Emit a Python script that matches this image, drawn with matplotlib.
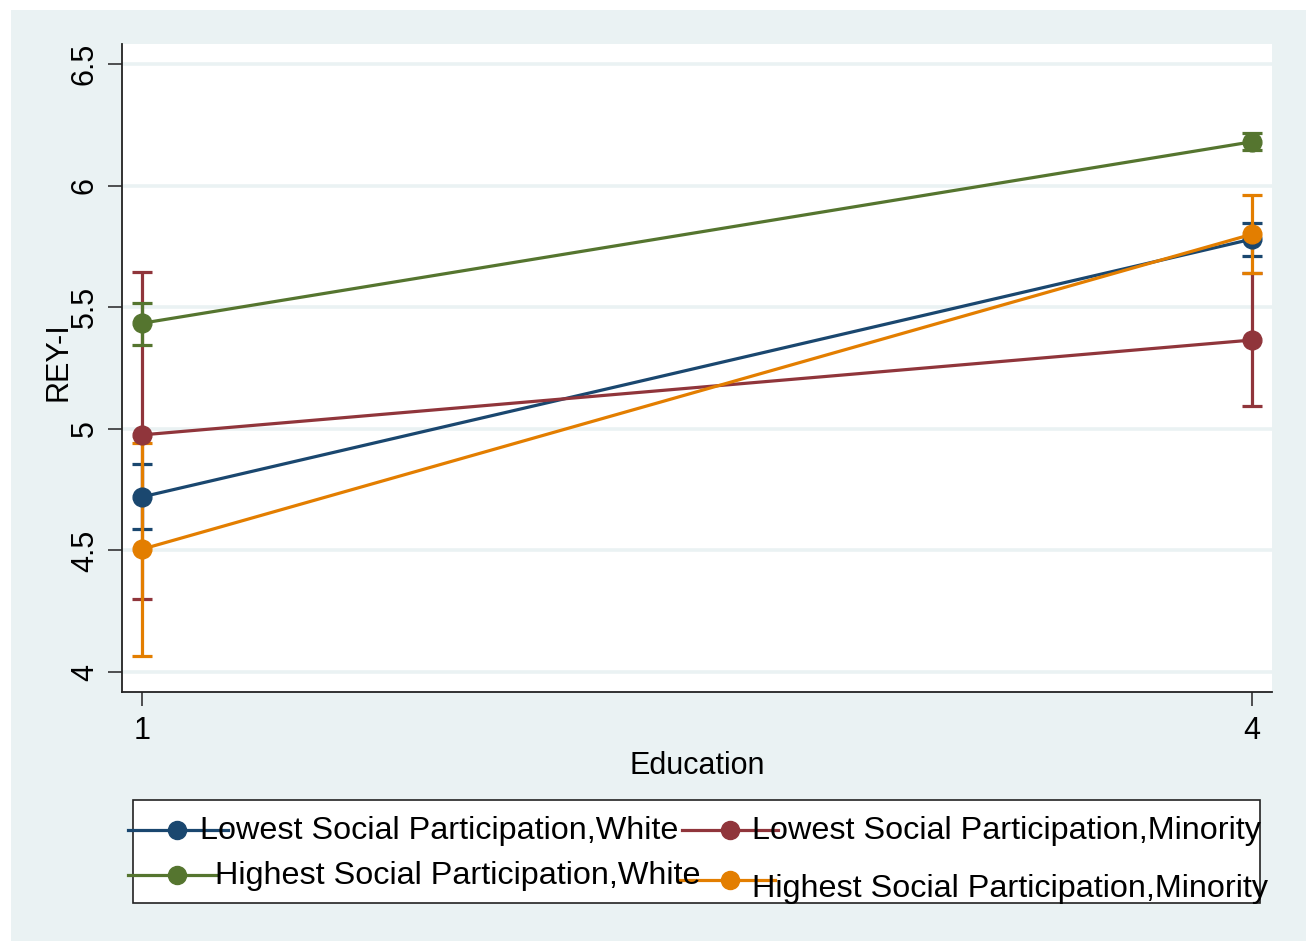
import matplotlib
matplotlib.use("Agg")
import matplotlib.pyplot as plt
from matplotlib.patches import Rectangle
from matplotlib.lines import Line2D

plt.rcParams['font.family'] = ['Liberation Sans', 'DejaVu Sans']

# Predicted REY-I scores by education level, with 95% confidence limits
education = [1, 4]
series_names = [
    "Lowest Social Participation,White",
    "Lowest Social Participation,Minority",
    "Highest Social Participation,White",
    "Highest Social Participation,Minority",
]
series_colors = ["#1a476f", "#90353b", "#55752f", "#e37e00"]

low_white_mean = [4.72, 5.78]
low_white_lo = [4.59, 5.71]
low_white_hi = [4.855, 5.845]

low_minority_mean = [4.975, 5.365]
low_minority_lo = [4.30, 5.093]
low_minority_hi = [5.644, 5.64]

high_white_mean = [5.434, 6.18]
high_white_lo = [5.344, 6.145]
high_white_hi = [5.517, 6.215]

high_minority_mean = [4.505, 5.80]
high_minority_lo = [4.066, 5.64]
high_minority_hi = [4.94, 5.96]

y_ticks = [4, 4.5, 5, 5.5, 6, 6.5]
y_tick_labels = ["4", "4.5", "5", "5.5", "6", "6.5"]
x_ticks = [1, 4]
x_tick_labels = ["1", "4"]

means = [low_white_mean, low_minority_mean, high_white_mean, high_minority_mean]
lows = [low_white_lo, low_minority_lo, high_white_lo, high_minority_lo]
highs = [low_white_hi, low_minority_hi, high_white_hi, high_minority_hi]

W, H = 1306, 941
fig = plt.figure(figsize=(W / 100, H / 100), dpi=100, facecolor="white")
bg = "#eaf2f3"

# Pixel-space canvas for the background and the legend
canvas = fig.add_axes([0, 0, 1, 1], zorder=0)
canvas.set_xlim(0, W)
canvas.set_ylim(H, 0)
canvas.axis("off")
canvas.add_patch(Rectangle((11, 10), W - 11, H - 10, facecolor=bg, edgecolor="none"))

# Main plot region
left, right, top, bottom = 122, 1272, 44, 692
ax = fig.add_axes([left / W, (H - bottom) / H, (right - left) / W, (bottom - top) / H], zorder=1)
ax.set_facecolor("white")
ax.set_xlim(0.946, 4.054)
ax.set_ylim(3.918, 6.582)

for yt in y_ticks:
    ax.axhline(yt, color=bg, lw=2.6, zorder=0.5)

for m, lo, hi, c in zip(means, lows, highs, series_colors):
    yerr = [[mm - l for mm, l in zip(m, lo)], [h - mm for mm, h in zip(m, hi)]]
    ax.errorbar(education, m, yerr=yerr, fmt="none", ecolor=c, elinewidth=2.3,
                capsize=7, capthick=2.3, zorder=2)
for m, c in zip(means, series_colors):
    ax.plot(education, m, color=c, lw=2.3, marker="o", markersize=13.5, zorder=3)

for s in ["top", "right"]:
    ax.spines[s].set_visible(False)
for s in ["left", "bottom"]:
    ax.spines[s].set_color("#222222")
    ax.spines[s].set_linewidth(1.3)

ax.set_yticks(y_ticks)
ax.set_yticklabels(y_tick_labels, rotation=90, va="center")
ax.set_xticks(x_ticks)
ax.set_xticklabels(x_tick_labels)
ax.tick_params(axis="both", length=10, width=1.2, color="#333333", labelsize=22)
ax.tick_params(axis="y", pad=6)
ax.tick_params(axis="x", pad=7)
ax.set_xlabel("Education", fontsize=22, labelpad=4)
ax.set_ylabel("REY-I", fontsize=22)
ax.yaxis.set_label_coords(-0.042, 0.51)

# Legend box with keys drawn in pixel coordinates
canvas.add_patch(Rectangle((133, 800), 1260 - 133, 903 - 800, facecolor="white",
                           edgecolor="#222222", lw=1.2, zorder=1))
legend_rows = [
    (128, 228, 177, 830, 200, 831),
    (682, 778, 730, 830, 752, 831),
    (128, 218, 177, 875, 215, 876),
    (680, 775, 730, 880, 752, 889),
]
for (x0, x1, xm, yl, xt, yt), name, c in zip(legend_rows, series_names, series_colors):
    canvas.add_line(Line2D([x0, x1], [yl, yl], color=c, lw=2.3, zorder=2, clip_on=False))
    canvas.add_line(Line2D([xm], [yl], color=c, marker="o", markersize=13, zorder=2,
                           clip_on=False))
    canvas.text(xt, yt, name, fontsize=23.3, ha="left", va="center", zorder=3)

fig.savefig("out.png", dpi=100, facecolor="white")
